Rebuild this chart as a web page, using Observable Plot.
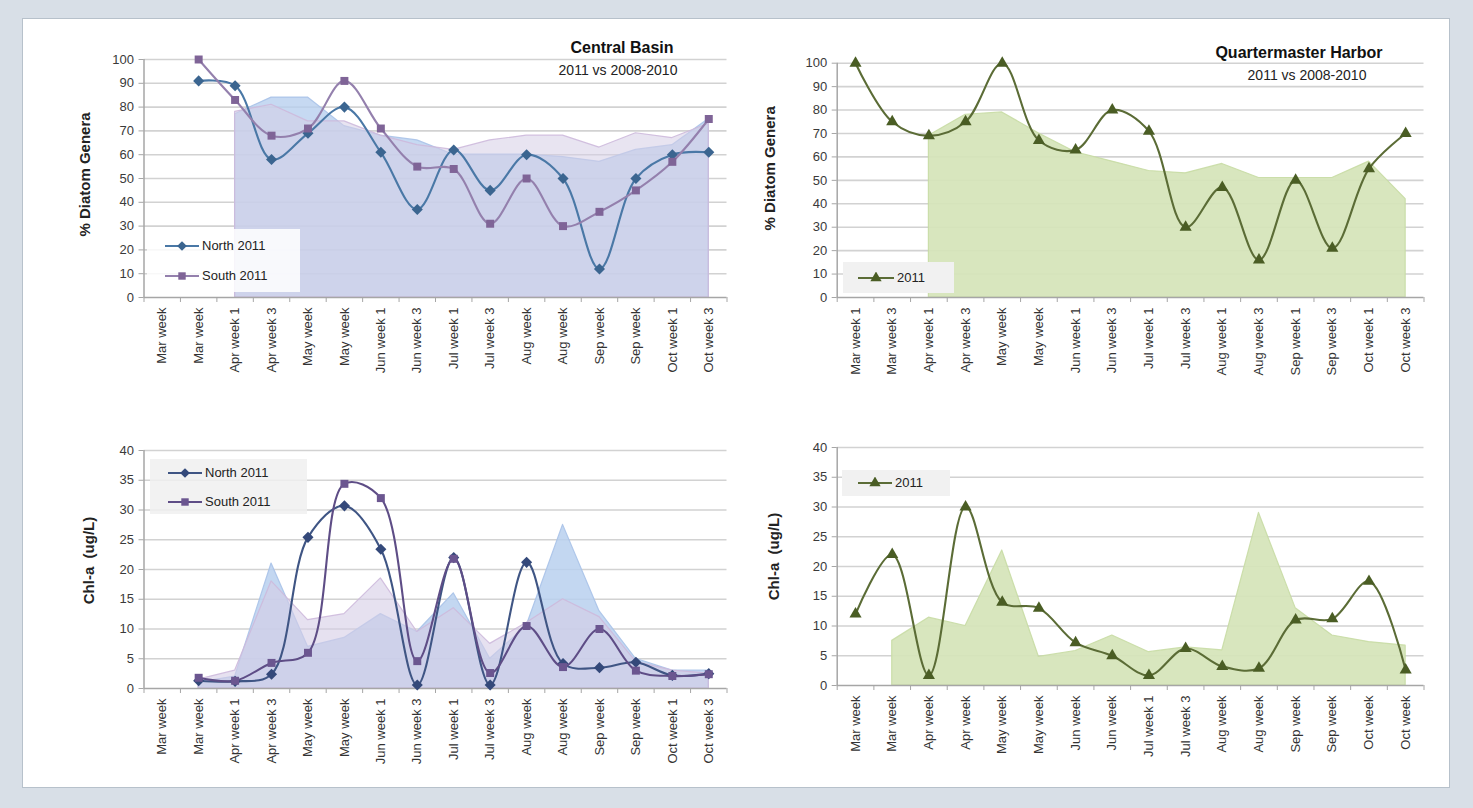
<!DOCTYPE html>
<html>
<head>
<meta charset="utf-8">
<script src="https://cdn.jsdelivr.net/npm/d3@7"></script>
<script src="https://cdn.jsdelivr.net/npm/@observablehq/plot@0.6"></script>
<style>
  html, body { margin:0; padding:0; }
  body { width:1473px; height:808px; background:#d8dfe7; position:relative; overflow:hidden; font-family:"Liberation Sans", Arial, sans-serif; }
  #panel { position:absolute; left:22px; top:18px; width:1428px; height:770px; background:#fff; border:1px solid #b7c1cb; box-sizing:border-box; }
  .chart { position:absolute; }
  .chart svg { overflow:visible; display:block; }
  .legend { position:absolute; box-sizing:border-box; font-family:"Liberation Sans", Arial, sans-serif; font-size:13px; color:#222; }
  .legend .item { position:absolute; display:flex; align-items:center; white-space:nowrap; height:16px; line-height:16px; }
  .legend svg { display:block; margin-right:3px; }
</style>
</head>
<body>
<div id="panel"></div>
<div id="cbDiatom" class="chart" style="left:60px; top:25px;"></div>
<div id="qhDiatom" class="chart" style="left:750px; top:25px;"></div>
<div id="cbChl" class="chart" style="left:60px; top:430px;"></div>
<div id="qhChl" class="chart" style="left:750px; top:430px;"></div>
<script>
// ---------- category labels ----------
const cbLabels = ["Mar week","Mar week","Apr week 1","Apr week 3","May week","May week","Jun week 1","Jun week 3","Jul week 1","Jul week 3","Aug week","Aug week","Sep week","Sep week","Oct week 1","Oct week 3"];
const qhDiatomLabels = ["Mar week 1","Mar week 3","Apr week 1","Apr week 3","May week","May week","Jun week 1","Jun week 3","Jul week 1","Jul week 3","Aug week 1","Aug week 3","Sep week 1","Sep week 3","Oct week 1","Oct week 3"];
const qhChlLabels = ["Mar week","Mar week","Apr week","Apr week","May week","May week","Jun week","Jun week","Jul week 1","Jul week 3","Aug week","Aug week","Sep week","Sep week","Oct week","Oct week"];

// ---------- tick values ----------
const diatomTicks = [0,10,20,30,40,50,60,70,80,90,100];
const chlTicks = [0,5,10,15,20,25,30,35,40];

// ---------- names and texts ----------
const northName = "North 2011";
const southName = "South 2011";
const qhName = "2011";
const cbTitle = "Central Basin";
const qhTitle = "Quartermaster Harbor";
const subTitle = "2011 vs 2008-2010";
const diatomLabel = "% Diatom Genera";
const chlLabel = "Chl-a  (ug/L)";

// ---------- Central Basin, % diatom genera ----------
const cbDiatomNorth2011 = [null,91,89,58,69,80,61,37,62,45,60,50,12,50,60,61];
const cbDiatomSouth2011 = [null,100,83,68,71,91,71,55,54,31,50,30,36,45,57,75];
const cbDiatomNorthHist = [null,null,77,84,84,72,68,66,60,60,60,59,57,62,64,75];
const cbDiatomSouthHist = [null,null,78,81,74,74,68,64,62,66,68,68,63,69,67,73];

// ---------- Quartermaster Harbor, % diatom genera ----------
const qhDiatom2011 = [100,75,69,75,100,67,63,80,71,30,47,16,50,21,55,70];
const qhDiatomHist = [null,null,69,78,79,70,62,58,54,53,57,51,51,51,58,42];

// ---------- Central Basin, Chl-a ----------
const cbChlNorth2011 = [null,1.3,1.2,2.4,25.4,30.7,23.4,0.6,22,0.6,21.2,4.2,3.5,4.4,2.2,2.5];
const cbChlSouth2011 = [null,1.8,1.3,4.3,6,34.4,32,4.6,21.8,2.6,10.5,3.6,10,3,2.1,2.4];
const cbChlNorthHist = [null,1,2,21,7,8.5,12.5,9.5,16,5,10.5,27.5,13,5,3,3];
const cbChlSouthHist = [null,1.5,3,18,11.5,12.5,18.5,9.5,13.5,7.5,11,15,12,4.5,3,2.5];

// ---------- Quartermaster Harbor, Chl-a ----------
const qhChl2011 = [12,22,1.7,30,14,13,7.2,5,1.7,6.2,3.2,2.9,11,11.2,17.5,2.6];
const qhChlHist = [null,7.5,11.4,10,22.7,4.8,5.8,8.4,5.6,6.4,5.9,29,13,8.4,7.3,6.7];

const positions = d3.range(16);
const xDomain = [-0.5, 15.5];
const boundaries = d3.range(17).map(i => i - 0.5);
const rows = vals => vals.map((v, i) => ({i, v})).filter(d => d.v != null);

function drawChart(id, cfg) {
  const marks = [
    Plot.gridY(cfg.yTicks.filter(t => t > cfg.yDomain[0]), {stroke:"#d2d2d2", strokeOpacity:1, strokeWidth:1.6})
  ];
  for (const a of cfg.areas) {
    marks.push(Plot.areaY(rows(a.values), {x:"i", y:"v", fill:a.fill, fillOpacity:a.fillOpacity, stroke:a.stroke, strokeWidth:1.2, strokeOpacity:0.9}));
  }
  marks.push(
    Plot.ruleX([xDomain[0]], {stroke:"#a6a6a6", strokeWidth:1.5}),
    Plot.ruleY([cfg.yDomain[0]], {stroke:"#a6a6a6", strokeWidth:1.5}),
    Plot.axisY(cfg.yTicks, {tickSize:5, tickPadding:5, stroke:"#a6a6a6", fill:"#3a3a3a", fontSize:13, label:null}),
    Plot.axisX(boundaries, {tickSize:5, tickFormat:() => "", stroke:"#a6a6a6", label:null}),
    Plot.axisX(positions, {tickSize:0, tickPadding:10, tickRotate:-90, tickFormat:i => cfg.labels[i], fill:"#333", fontSize:13, label:null})
  );
  for (const s of cfg.series) {
    marks.push(Plot.lineY(rows(s.values), {x:"i", y:"v", stroke:s.stroke, strokeWidth:2.1, curve:"catmull-rom"}));
    marks.push(Plot.dot(rows(s.values), {x:"i", y:"v", symbol:s.symbol, r:s.r, fill:s.fill, stroke:"none"}));
  }
  marks.push(Plot.text([cfg.yLabel], {frameAnchor:"left", rotate:-90, dx:cfg.yLabelDx, dy:cfg.yLabelDy, text:d => d, textAnchor:"middle", lineAnchor:"middle", fontWeight:"bold", fontSize:15, fill:"#222"}));
  if (cfg.title) {
    marks.push(Plot.text([cfg.title.text], {frameAnchor:"top-right", dx:cfg.title.dx, dy:cfg.title.dy, text:d => d, textAnchor:"middle", lineAnchor:"middle", fontWeight:"bold", fontSize:16, fill:"#111"}));
    marks.push(Plot.text([cfg.title.sub], {frameAnchor:"top-right", dx:cfg.title.sdx, dy:cfg.title.sdy, text:d => d, textAnchor:"middle", lineAnchor:"middle", fontSize:14, fill:"#222"}));
  }
  const svg = Plot.plot({
    width: cfg.width, height: cfg.height,
    marginLeft: cfg.m[0], marginRight: cfg.m[1], marginTop: cfg.m[2], marginBottom: cfg.m[3],
    x: {domain: xDomain, axis: null},
    y: {domain: cfg.yDomain, axis: null},
    style: {fontFamily: "Liberation Sans, Arial, sans-serif", background: "transparent", overflow: "visible"},
    marks
  });
  document.getElementById(id).append(svg);
}

function drawLegend(box, items) {
  const div = document.createElement("div");
  div.className = "legend";
  Object.assign(div.style, {left: box.left + "px", top: box.top + "px", width: box.width + "px", height: box.height + "px", background: box.background});
  for (const it of items) {
    const item = document.createElement("div");
    item.className = "item";
    item.style.left = (it.x - box.left) + "px";
    item.style.top = (it.y - box.top - 8) + "px";
    const w = it.symbolWidth;
    const svg = d3.create("svg").attr("width", w).attr("height", 12);
    svg.append("line").attr("x1", 0).attr("x2", w).attr("y1", 6).attr("y2", 6).attr("stroke", it.stroke).attr("stroke-width", 2);
    svg.append("path").attr("transform", `translate(${w / 2},6)`).attr("d", d3.symbol(it.symbolType, it.size)()).attr("fill", it.fill);
    item.append(svg.node());
    const span = document.createElement("span");
    span.textContent = it.label;
    item.append(span);
    div.append(item);
  }
  document.body.append(div);
}

const blueFill = "#b8d0ef", lavFill = "#d5cde6", greenFill = "#d5e4b8";

drawChart("cbDiatom", {
  width: 680, height: 360, m: [83.5, 13.5, 34, 88],
  yDomain: [0, 100], yTicks: diatomTicks, labels: cbLabels,
  yLabel: diatomLabel, yLabelDx: -58.5, yLabelDy: -4,
  title: {text: cbTitle, sub: subTitle, dx: -105, dy: -12, sdx: -109, sdy: 11},
  areas: [
    {values: cbDiatomNorthHist, fill: blueFill, fillOpacity: 0.8, stroke: "#a8c2e8"},
    {values: cbDiatomSouthHist, fill: lavFill, fillOpacity: 0.55, stroke: "#cdb9dc"}
  ],
  series: [
    {values: cbDiatomNorth2011, stroke: "#4a78a6", fill: "#3b6590", symbol: "diamond2", r: 5},
    {values: cbDiatomSouth2011, stroke: "#9480ad", fill: "#7f6497", symbol: "square", r: 4.5}
  ]
});

drawChart("qhDiatom", {
  width: 690, height: 360, m: [86.7, 16.5, 37.7, 88],
  yDomain: [0, 100], yTicks: diatomTicks, labels: qhDiatomLabels,
  yLabel: diatomLabel, yLabelDx: -66.7, yLabelDy: -12,
  title: {text: qhTitle, sub: subTitle, dx: -125, dy: -10, sdx: -117, sdy: 12},
  areas: [
    {values: qhDiatomHist, fill: greenFill, fillOpacity: 0.92, stroke: "#c8dba4"}
  ],
  series: [
    {values: qhDiatom2011, stroke: "#5b6c36", fill: "#4a5d24", symbol: "triangle", r: 4.5}
  ]
});

drawChart("cbChl", {
  width: 680, height: 370, m: [83.5, 13.5, 20, 112],
  yDomain: [0, 40], yTicks: chlTicks, labels: cbLabels,
  yLabel: chlLabel, yLabelDx: -55, yLabelDy: -9,
  areas: [
    {values: cbChlNorthHist, fill: blueFill, fillOpacity: 0.85, stroke: "#a8c2e8"},
    {values: cbChlSouthHist, fill: lavFill, fillOpacity: 0.6, stroke: "#cdb9dc"}
  ],
  series: [
    {values: cbChlNorth2011, stroke: "#3f5584", fill: "#34497a", symbol: "diamond2", r: 5},
    {values: cbChlSouth2011, stroke: "#5e4d86", fill: "#6b5690", symbol: "square", r: 4.5}
  ]
});

drawChart("qhChl", {
  width: 690, height: 370, m: [86.7, 16.5, 17, 115],
  yDomain: [0, 40], yTicks: chlTicks, labels: qhChlLabels,
  yLabel: chlLabel, yLabelDx: -63, yLabelDy: -10,
  areas: [
    {values: qhChlHist, fill: greenFill, fillOpacity: 0.92, stroke: "#c8dba4"}
  ],
  series: [
    {values: qhChl2011, stroke: "#5b6c36", fill: "#4a5d24", symbol: "triangle", r: 4.5}
  ]
});

const sym = {diamond2: d3.symbolDiamond2, square: d3.symbolSquare, triangle: d3.symbolTriangle};

drawLegend({left: 147, top: 229, width: 153, height: 63, background: "rgba(255,255,255,0.85)"}, [
  {label: northName, x: 165, y: 246, symbolWidth: 34, stroke: "#4a78a6", fill: "#3b6590", symbolType: sym.diamond2, size: 60},
  {label: southName, x: 165, y: 276, symbolWidth: 34, stroke: "#9480ad", fill: "#7f6497", symbolType: sym.square, size: 55}
]);
drawLegend({left: 150, top: 459, width: 157, height: 55, background: "rgba(240,240,240,0.85)"}, [
  {label: northName, x: 168, y: 473, symbolWidth: 34, stroke: "#3f5584", fill: "#34497a", symbolType: sym.diamond2, size: 60},
  {label: southName, x: 168, y: 502, symbolWidth: 34, stroke: "#5e4d86", fill: "#6b5690", symbolType: sym.square, size: 55}
]);
drawLegend({left: 843, top: 262, width: 111, height: 31, background: "#f1f1f1"}, [
  {label: qhName, x: 858, y: 278, symbolWidth: 36, stroke: "#5b6c36", fill: "#4a5d24", symbolType: sym.triangle, size: 55}
]);
drawLegend({left: 842, top: 470, width: 108, height: 26, background: "#f1f1f1"}, [
  {label: qhName, x: 858, y: 483, symbolWidth: 34, stroke: "#5b6c36", fill: "#4a5d24", symbolType: sym.triangle, size: 55}
]);
</script>
</body>
</html>
